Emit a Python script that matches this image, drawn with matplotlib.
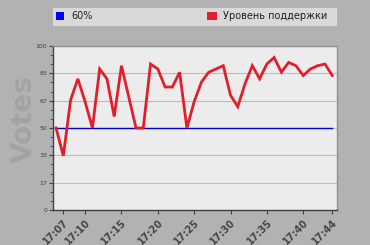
import matplotlib
matplotlib.use("Agg")
import matplotlib.pyplot as plt
from matplotlib.patches import Rectangle
import numpy as np

# data
times = ["17:06", "17:07", "17:08", "17:09", "17:10", "17:11", "17:12", "17:13",
         "17:14", "17:15", "17:16", "17:17", "17:18", "17:19", "17:20", "17:21",
         "17:22", "17:23", "17:24", "17:25", "17:26", "17:27", "17:28", "17:29",
         "17:30", "17:31", "17:32", "17:33", "17:34", "17:35", "17:36", "17:37",
         "17:38", "17:39", "17:40", "17:41", "17:42", "17:43", "17:44"]
support = [50, 33, 67, 80, 66, 50, 86, 80, 57, 88, 69, 50, 50, 89, 86, 75,
           75, 84, 50, 66, 78, 84, 86, 88, 70, 63, 77, 88, 80, 89, 93, 84,
           90, 88, 82, 86, 88, 89, 82]
threshold = [50] * len(times)
tick_labels = ["17:07", "17:10", "17:15", "17:20", "17:25", "17:30", "17:35", "17:40", "17:44"]
y_ticks = [0, 100 / 6, 200 / 6, 50, 400 / 6, 500 / 6, 100]
y_tick_labels = ["0", "17", "33", "50", "67", "83", "100"]
legend_labels = ["60%", "Уровень поддержки"]


def to_min(t):
    h, m = t.split(":")
    return int(h) * 60 + int(m)


x = np.array([to_min(t) for t in times])
bg = "#b2b2b2"

fig = plt.figure(figsize=(3.7, 2.45), dpi=100, facecolor=bg)
ax = fig.add_axes([53 / 370, 35 / 245, 284 / 370, 164 / 245], facecolor="#ececec")

ax.plot(x, threshold, color="#0000c8", lw=1.0, zorder=3)
ax.plot(x, support, color="#e01f2b", lw=2.0, zorder=4, solid_joinstyle="miter")

ax.set_xlim(to_min("17:05") + 0.58, to_min("17:44") + 0.65)
ax.set_ylim(0, 100)

ax.set_yticks(y_ticks)
ax.set_yticklabels(y_tick_labels)
ax.set_yticks(np.arange(0, 100, 100 / 18), minor=True)
ax.yaxis.grid(True, color="#bcbcbc", lw=0.8)
ax.set_axisbelow(True)
ax.tick_params(axis="y", which="major", length=3, width=0.8, labelsize=4.5,
               labelcolor="#404040", color="#404040", pad=1)
ax.tick_params(axis="y", which="minor", length=2, width=0.6, color="#404040")

ax.set_xticks([to_min(t) for t in tick_labels])
ax.set_xticklabels(tick_labels, rotation=45, ha="right", rotation_mode="anchor",
                   fontsize=7, color="#454545", fontweight="bold")
ax.tick_params(axis="x", length=3, width=0.8, color="#404040", pad=2)

for side in ("left", "bottom"):
    ax.spines[side].set_color("#404040")
    ax.spines[side].set_linewidth(1.0)
for side in ("top", "right"):
    ax.spines[side].set_color("#909090")
    ax.spines[side].set_linewidth(1.0)

fig.text(24 / 370, 126 / 245, "Votes", rotation=90, ha="center", va="center",
         fontsize=20, fontweight="bold", color="#a3a3a3")

# legend strip
fig.patches.append(Rectangle((53 / 370, 219 / 245), 284 / 370, 18 / 245,
                             transform=fig.transFigure, facecolor="#d9d9d9",
                             edgecolor="none"))
fig.patches.append(Rectangle((56 / 370, 225 / 245), 8 / 370, 8 / 245,
                             transform=fig.transFigure, facecolor="#0000ff",
                             edgecolor="none"))
fig.patches.append(Rectangle((207 / 370, 225 / 245), 10 / 370, 8 / 245,
                             transform=fig.transFigure, facecolor="#e01f2b",
                             edgecolor="none"))
fig.text(71 / 370, 229 / 245, legend_labels[0], ha="left", va="center",
         fontsize=7, color="#202020")
fig.text(223 / 370, 229 / 245, legend_labels[1], ha="left", va="center",
         fontsize=7, color="#202020")

fig.savefig("out.png", dpi=100, facecolor=bg)
